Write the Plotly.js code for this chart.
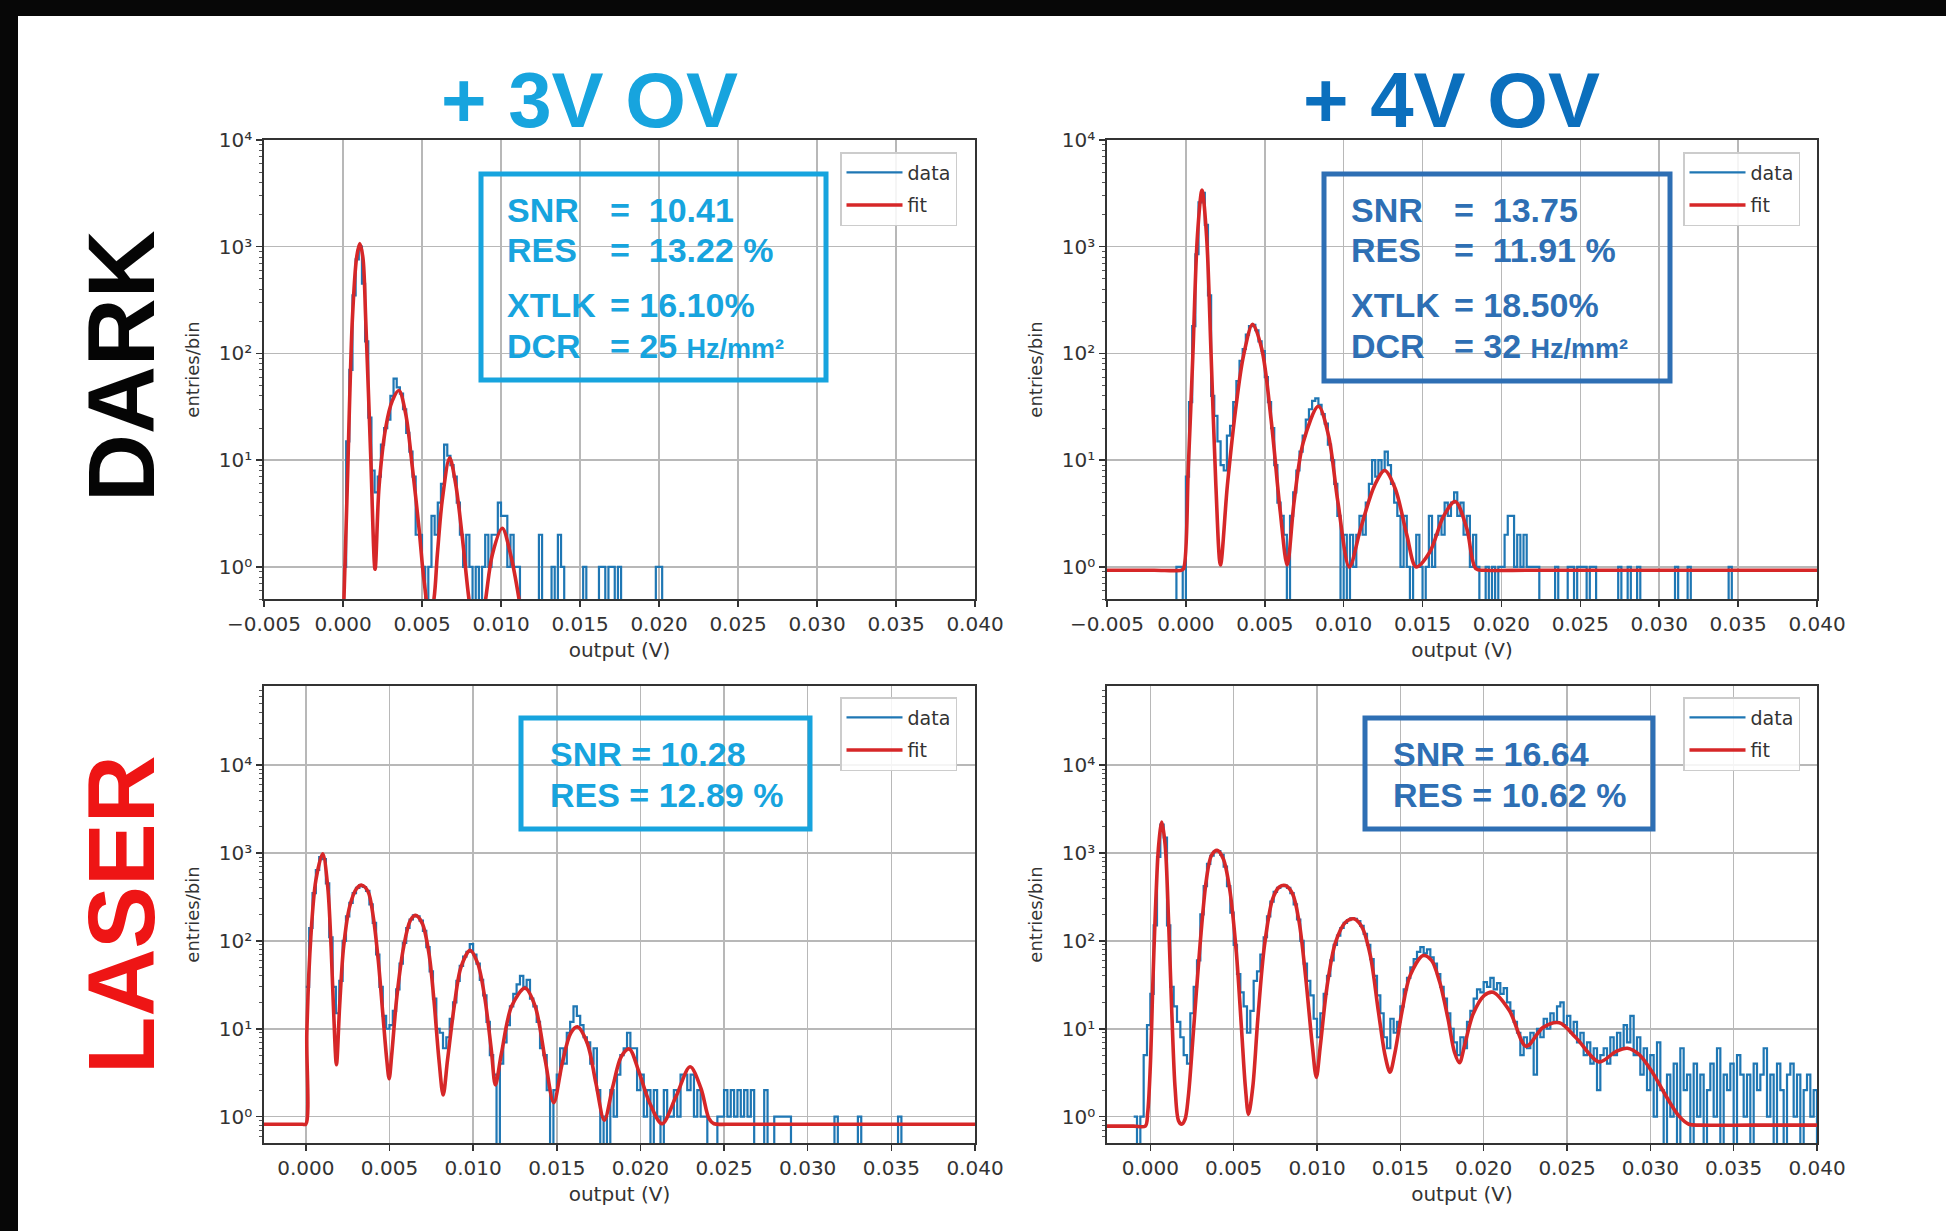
<!DOCTYPE html>
<html>
<head>
<meta charset="utf-8">
<script src="https://cdn.plot.ly/plotly-3.0.1.min.js"></script>
<style>
  html, body { margin: 0; padding: 0; background: #ffffff; }
  #chart { width: 1946px; height: 1231px; }
</style>
</head>
<body>
<div id="chart"></div>
<script>
// ---------------------------------------------------------------------------
// SiPM charge spectra: dark counts and laser pulses at +3 V and +4 V overvoltage.
// Histograms share one bin width (V); counts are entries per bin.
// ---------------------------------------------------------------------------
const binWidth = 0.0002;

// DARK, +3V OV
const dark3vStart = 0.0000;
const dark3vCounts = [
  1, 15, 70, 350, 760, 1000, 450, 130, 25, 8,
  5, 7, 14, 20, 24, 40, 58, 48, 42, 30,
  18, 12, 7, 2, 2, 1, 0, 1, 3, 2,
  4, 6, 14, 11, 9, 7, 4, 2, 1, 2,
  1, 0, 1, 0, 1, 2, 1, 2, 2, 4,
  3, 3, 1, 2, 1, 1, 0, 0, 0, 0,
  0, 0, 2, 0, 0, 0, 1, 0, 2, 1,
  0, 0, 0, 0, 0, 0, 1, 0, 0, 0,
  0, 1, 1, 0, 1, 1, 0, 1, 0, 0,
  0, 0, 0, 0, 0, 0, 0, 0, 0, 1,
  1, 0, 0
];
const dark3vFitX = [-0.0002, 0.00006, 0.00027, 0.00059, 0.00086, 0.00106, 0.00126, 0.00144, 0.00175, 0.00203,
  0.00228, 0.0027, 0.00312, 0.00354, 0.00397, 0.00439, 0.00481, 0.00513, 0.00545, 0.0057,
  0.00597, 0.00628, 0.00675, 0.00713, 0.00755, 0.00797, 0.0085, 0.00903, 0.00945, 0.01008,
  0.01061, 0.01114, 0.0118];
const dark3vFitY = [0.05, 0.5, 5.6, 204, 790, 1070, 790, 204, 11.4, 0.95,
  5.6, 20, 36, 45, 27, 8.6, 2.3, 0.74, 0.38, 0.45,
  1.3, 4.2, 10.5, 6, 1.9, 0.5, 0.15, 0.5, 1.3, 2.3,
  1.3, 0.5, 0.1];

// DARK, +4V OV
const dark4vStart = -0.0010;
const dark4vCounts = [
  0, 0, 1, 1, 0, 7, 35, 180, 850, 2600,
  3200, 1600, 350, 40, 26, 15, 9, 8, 17, 21,
  35, 55, 85, 110, 150, 180, 185, 165, 130, 105,
  60, 35, 20, 9, 4, 3, 2, 0, 3, 5,
  8, 12, 17, 24, 30, 36, 38, 33, 27, 22,
  14, 10, 6, 3, 0, 2, 0, 2, 1, 2,
  3, 2, 4, 6, 10, 7, 10, 8, 12, 9,
  6, 4, 3, 1, 3, 1, 0, 1, 2, 1,
  0, 1, 3, 1, 2, 3, 2, 4, 3, 4,
  5, 3, 4, 2, 3, 1, 2, 1, 0, 0,
  1, 0, 1, 0, 1, 1, 2, 3, 3, 1,
  2, 1, 2, 1, 1, 1, 1, 0, 0, 0,
  0, 0, 1, 0, 0, 0, 1, 1, 0, 1,
  1, 1, 0, 1, 1, 0, 0, 0, 0, 0,
  0, 0, 1, 0, 0, 1, 0, 0, 1, 0,
  0, 0, 0, 0, 0, 0, 0, 0, 0, 0,
  1, 0, 0, 0, 1, 0, 0, 0, 0, 0,
  0, 0, 0, 0, 0, 0, 0, 1, 0
];
const dark4vFitX = [-0.0050, -0.0020, -0.0003, -0.00015, 0.00015, 0.00044, 0.00073, 0.00102, 0.00131, 0.0016, 0.0019,
  0.00219, 0.00263, 0.00321, 0.00365, 0.00423, 0.00481, 0.0054, 0.00598, 0.00642, 0.00686,
  0.00744, 0.0084, 0.00904, 0.00963, 0.01036, 0.01108, 0.01196, 0.0126, 0.01327, 0.014,
  0.01459, 0.01546, 0.01634, 0.01707, 0.0178, 0.01838, 0.0190, 0.0220, 0.0400];
const dark4vFitY = [0.93, 0.93, 0.93, 0.96, 8.3, 95, 1260, 3390, 1260, 95, 5.8,
  1.04, 5.8, 35, 95, 188, 110, 24, 3.3, 1.04, 4.1,
  14.7, 32, 17, 4.1, 1.0, 2.3, 5.8, 8, 5.4, 2.0,
  1.0, 1.38, 3.0, 4.1, 2.3, 0.96, 0.93, 0.93, 0.93];

// LASER, +3V OV
const laser3vStart = 0.0000;
const laser3vCounts = [
  30, 140, 350, 640, 900, 850, 450, 110, 30, 15,
  35, 100, 190, 270, 350, 400, 430, 410, 370, 260,
  160, 70, 30, 14, 10, 11, 16, 28, 55, 95,
  140, 175, 195, 190, 170, 130, 85, 45, 22, 10,
  9, 6, 8, 13, 20, 35, 52, 66, 75, 92,
  70, 55, 36, 24, 12, 5, 3, 0, 4, 7,
  11, 18, 25, 32, 40, 30, 36, 22, 18, 12,
  6, 5, 2, 0, 2, 3, 6, 4, 9, 12,
  18, 14, 11, 8, 7, 4, 6, 2, 0, 1,
  0, 2, 1, 3, 5, 6, 9, 6, 6, 2,
  3, 1, 2, 0, 2, 1, 0, 2, 1, 1,
  2, 1, 3, 3, 2, 3, 1, 2, 1, 1,
  0, 0, 0, 1, 1, 2, 1, 2, 1, 2,
  1, 2, 1, 2, 0, 0, 0, 2, 0, 0,
  1, 1, 1, 1, 1, 0, 0, 0, 0, 0,
  0, 0, 0, 0, 0, 0, 0, 0, 1, 0,
  0, 0, 0, 0, 0, 1, 0, 0, 0, 0,
  0, 0, 0, 0, 0, 0, 0, 1, 0
];
const laser3vFitX = [-0.0025, -0.0012, -0.0002, 0.0000, 0.00006, 0.0003, 0.0006, 0.00101, 0.00131, 0.00151, 0.00165, 0.00183,
  0.00202, 0.00226, 0.00262, 0.00302, 0.00335, 0.00373, 0.00403, 0.00433, 0.0046, 0.00484,
  0.00498, 0.00514, 0.00544, 0.00585, 0.00625, 0.00657, 0.00696, 0.00736, 0.00766, 0.00796,
  0.00821, 0.00847, 0.00887, 0.00927, 0.00982, 0.01028, 0.01069, 0.01109, 0.01133, 0.01169,
  0.0123, 0.0131, 0.01371, 0.01431, 0.01482, 0.01532, 0.01583, 0.01623, 0.01683, 0.01734,
  0.01784, 0.01835, 0.01885, 0.01933, 0.01992, 0.02051, 0.02129, 0.02213, 0.02297, 0.02362,
  0.0241, 0.0244, 0.0252, 0.0300, 0.0400];
const laser3vFitY = [0.82, 0.82, 0.82, 0.82, 8.9, 111, 490, 980, 410, 86, 18, 3.9,
  18, 86, 245, 390, 430, 360, 188, 60, 15, 4.4,
  2.7, 5.2, 23, 86, 171, 195, 158, 72, 21, 4.4,
  1.76, 4.4, 18, 50, 78, 55, 23, 5.7, 2.3, 5.2,
  18, 29, 18, 4.4, 1.44, 4.0, 8.9, 10.5, 6.8, 2.4,
  0.91, 2.2, 4.8, 5.9, 3.2, 1.5, 0.83, 1.7, 3.7, 2.1,
  0.95, 0.83, 0.82, 0.82, 0.82];

// LASER, +4V OV
const laser4vStart = -0.0010;
const laser4vCounts = [
  1, 0, 1, 5, 11, 25, 150, 900, 2100, 1500,
  150, 30, 18, 12, 8, 5, 4, 15, 30, 60,
  200, 420, 750, 930, 1040, 1050, 950, 700, 420, 210,
  90, 42, 26, 18, 9, 16, 35, 45, 70, 110,
  190, 280, 360, 400, 420, 425, 400, 350, 260, 175,
  100, 55, 35, 24, 13, 8, 15, 25, 40, 60,
  90, 115, 140, 160, 172, 180, 178, 168, 148, 120,
  90, 62, 40, 24, 15, 8, 6, 13, 9, 12,
  18, 28, 38, 50, 62, 75, 85, 72, 80, 65,
  55, 42, 30, 22, 15, 10, 7, 5, 8, 6,
  12, 16, 22, 28, 26, 34, 30, 38, 28, 33,
  25, 29, 20, 16, 12, 9, 5, 8, 6, 9,
  3, 10, 8, 13, 10, 15, 12, 18, 20, 11,
  14, 9, 12, 7, 9, 5, 7, 4, 6, 2,
  5, 6, 4, 8, 5, 9, 6, 11, 7, 14,
  5, 8, 3, 6, 2, 5, 1, 7, 2, 0,
  3, 1, 4, 0, 6, 2, 3, 0, 4, 1,
  3, 0, 2, 4, 1, 6, 0, 3, 2, 4,
  0, 5, 3, 1, 3, 0, 4, 2, 3, 6,
  1, 3, 0, 4, 2, 0, 3, 4, 1, 3,
  0, 2, 3, 1, 2
];
const laser4vFitX = [-0.0026, -0.0010, -0.0003, -0.00016, 0.0000, 0.00016, 0.0003, 0.0005, 0.00069, 0.00089, 0.00109,
  0.00129, 0.00149, 0.00169, 0.00188, 0.00208, 0.00228, 0.00258, 0.00298, 0.00337, 0.00367,
  0.00401, 0.00437, 0.00476, 0.00516, 0.00546, 0.0057, 0.00589, 0.00615, 0.00645, 0.00685,
  0.00734, 0.00774, 0.0081, 0.00853, 0.00893, 0.00933, 0.00972, 0.00996, 0.0102, 0.01061,
  0.01111, 0.01171, 0.01222, 0.0127, 0.0132, 0.01369, 0.01409, 0.01438, 0.01468, 0.01508,
  0.01558, 0.01637, 0.01687, 0.01736, 0.01786, 0.01825, 0.01855, 0.01885, 0.01936, 0.02004,
  0.02056, 0.02155, 0.02255, 0.02355, 0.02454, 0.02554, 0.02693, 0.02793, 0.02863, 0.02932,
  0.03012, 0.03092, 0.03171, 0.03231, 0.0330, 0.0360, 0.0400];
const laser4vFitY = [0.78, 0.78, 0.78, 1.1, 3.8, 37, 210, 1230, 2250, 1230, 178,
  15, 2.05, 0.9, 0.82, 0.93, 1.7, 9, 89, 510, 940,
  1070, 865, 390, 74, 10.8, 2.2, 1.06, 2.2, 13, 89,
  300, 410, 426, 345, 163, 37, 6.4, 2.8, 6.4, 31,
  96, 163, 178, 143, 68, 15.4, 4.9, 3.2, 5.4, 15,
  40, 68, 60, 34, 13, 5.4, 4.1, 6.4, 14.6, 24,
  26, 16, 6.3, 10.3, 11.7, 7.9, 4.2, 5.5, 6.0, 5.1,
  3.2, 1.74, 1.02, 0.82, 0.8, 0.8, 0.8];

// Fit summaries printed in each panel
const dark3vStats = [['SNR', '=\u00a0\u00a010.41'], ['RES', '=\u00a0\u00a013.22 %'], ['XTLK', '=\u00a016.10%'], ['DCR', '=\u00a025 <span style="font-size:27px">Hz/mm²</span>']];
const dark4vStats = [['SNR', '=\u00a0\u00a013.75'], ['RES', '=\u00a0\u00a011.91 %'], ['XTLK', '=\u00a018.50%'], ['DCR', '=\u00a032 <span style="font-size:27px">Hz/mm²</span>']];
const laser3vStats = ['SNR = 10.28', 'RES = 12.89 %'];
const laser4vStats = ['SNR = 16.64', 'RES = 10.62 %'];

const columnTitles = ['+ 3V OV', '+ 4V OV'];
const rowTitles = ['DARK', 'LASER'];
const seriesNames = ['data', 'fit'];
const xAxisTitle = 'output (V)';
const yAxisTitle = 'entries/bin';
const yTickVals = [1, 10, 100, 1000, 10000];
const yTickText = ['10⁰', '10¹', '10²', '10³', '10⁴'];

// ---------------------------------------------------------------------------
const W = 1946, H = 1231;
const px = v => v / W;
const py = v => 1 - v / H;
const EMPTY_BIN = 1e-3;   // empty bins fall below the log axis
const BLUE3 = '#17a4de', BLUE4 = '#0b6fbd', BOX4 = '#2e6fb4';
const DATA_COLOR = '#1f77b4', FIT_COLOR = '#d62728';

function stepLine(start, counts) {
  const xs = [], ys = [];
  counts.forEach((c, i) => {
    xs.push(start + i * binWidth);
    ys.push(c > 0 ? c : EMPTY_BIN);
  });
  xs.push(start + counts.length * binWidth);
  ys.push(EMPTY_BIN);
  return { xs, ys };
}

const panels = [
  { start: dark3vStart, counts: dark3vCounts, fx: dark3vFitX, fy: dark3vFitY, xr: [-0.005, 0.040], yr: [-0.301, 4],
    dom: [264, 975, 140, 599] },
  { start: dark4vStart, counts: dark4vCounts, fx: dark4vFitX, fy: dark4vFitY, xr: [-0.005, 0.040], yr: [-0.301, 4],
    dom: [1107, 1817, 140, 599] },
  { start: laser3vStart, counts: laser3vCounts, fx: laser3vFitX, fy: laser3vFitY, xr: [-0.0025, 0.040], yr: [-0.3, 4.9],
    dom: [264, 975, 686, 1143] },
  { start: laser4vStart, counts: laser4vCounts, fx: laser4vFitX, fy: laser4vFitY, xr: [-0.0026, 0.040], yr: [-0.3, 4.9],
    dom: [1107, 1817, 686, 1143] }
];

const minorVals = [];
for (let e = -1; e <= 5; e++) for (let m = 2; m <= 9; m++) minorVals.push(m * Math.pow(10, e));

const tickFont = { family: 'DejaVu Sans, sans-serif', size: 20, color: '#333333' };
const traces = [];
const layout = {
  width: W, height: H,
  margin: { l: 0, r: 0, t: 0, b: 0 },
  paper_bgcolor: '#ffffff', plot_bgcolor: '#ffffff',
  font: { family: 'DejaVu Sans, sans-serif', size: 20, color: '#333333' },
  showlegend: true,
  annotations: [], shapes: []
};

panels.forEach((p, i) => {
  const n = i === 0 ? '' : String(i + 1);
  const legendId = 'legend' + n;
  const h = stepLine(p.start, p.counts);
  traces.push({
    type: 'scatter', mode: 'lines', name: seriesNames[0], x: h.xs, y: h.ys,
    xaxis: 'x' + n, yaxis: 'y' + n, legend: legendId, legendgroup: 'd' + i,
    line: { color: DATA_COLOR, width: 2.2, shape: 'hv' }, hoverinfo: 'skip'
  });
  traces.push({
    type: 'scatter', mode: 'lines', name: seriesNames[1], x: p.fx, y: p.fy,
    xaxis: 'x' + n, yaxis: 'y' + n, legend: legendId, legendgroup: 'f' + i,
    line: { color: FIT_COLOR, width: 3.6, shape: 'spline', smoothing: 0.9 }, hoverinfo: 'skip'
  });
  const [l, r, t, b] = p.dom;
  layout['xaxis' + n] = {
    domain: [px(l), px(r)], range: p.xr, anchor: 'y' + n, type: 'linear',
    tick0: 0, dtick: 0.005, tickformat: '.3f',
    showgrid: true, gridcolor: '#b8b8b8', gridwidth: 1.5, zeroline: false,
    showline: true, mirror: true, linecolor: '#333333', linewidth: 1.8,
    ticks: 'outside', ticklen: 6, tickwidth: 1.5, tickcolor: '#333333',
    tickfont: tickFont, automargin: false,
    title: { text: xAxisTitle, font: { family: 'DejaVu Sans, sans-serif', size: 20, color: '#333333' }, standoff: 8 }
  };
  layout['yaxis' + n] = {
    domain: [py(b), py(t)], range: p.yr, anchor: 'x' + n, type: 'log',
    tickmode: 'array', tickvals: yTickVals, ticktext: yTickText,
    showgrid: true, gridcolor: '#b8b8b8', gridwidth: 1.5, zeroline: false,
    showline: true, mirror: true, linecolor: '#333333', linewidth: 1.8,
    ticks: 'outside', ticklen: 6, tickwidth: 1.5, tickcolor: '#333333',
    minor: { tickmode: 'array', tickvals: minorVals, ticks: 'outside', ticklen: 3, tickwidth: 1, tickcolor: '#555555', showgrid: false },
    tickfont: tickFont, automargin: false,
    title: { text: yAxisTitle, font: { family: 'DejaVu Sans, sans-serif', size: 18, color: '#333333' }, standoff: 14 }
  };
  const lx = i % 2 === 0 ? 840 : 1683;
  const ly = i < 2 ? 152 : 697;
  layout[legendId] = {
    x: px(lx), y: py(ly), xanchor: 'left', yanchor: 'top',
    bgcolor: 'rgba(255,255,255,0.85)', bordercolor: '#cccccc', borderwidth: 1.5,
    font: { family: 'DejaVu Sans, sans-serif', size: 19, color: '#333333' },
    traceorder: 'grouped', tracegroupgap: 5, itemwidth: 56
  };
});

// Column and row headings
const boxFont = (color, size) => ({ family: 'Liberation Sans, Arial, sans-serif', size: size, color: color, weight: 700 });
function note(text, x, y, font, extra) {
  layout.annotations.push(Object.assign({
    text: text, xref: 'paper', yref: 'paper', x: px(x), y: py(y),
    xanchor: 'center', yanchor: 'middle', showarrow: false, font: font
  }, extra || {}));
}
note(columnTitles[0], 589, 100, boxFont(BLUE3, 78));
note(columnTitles[1], 1451, 100, boxFont(BLUE4, 78));
note(rowTitles[0], 121, 366, boxFont('#050505', 94), { textangle: -90 });
note(rowTitles[1], 121, 915, boxFont('#ee1515', 94), { textangle: -90 });

// Fit-summary boxes
function frame(x0, y0, x1, y1, color) {
  layout.shapes.push({ type: 'rect', xref: 'paper', yref: 'paper', x0: px(x0), x1: px(x1), y0: py(y1), y1: py(y0),
    line: { color: color, width: 5 }, fillcolor: 'rgba(255,255,255,0)' });
}
const statRows = [210, 250, 305, 346];
frame(481, 174, 826, 380, BLUE3);
dark3vStats.forEach((s, k) => {
  note(s[0], 505, statRows[k], boxFont(BLUE3, 34), { xanchor: 'left' });
  note(s[1], 608, statRows[k], boxFont(BLUE3, 34), { xanchor: 'left' });
});
frame(1324, 174, 1670, 381, BOX4);
dark4vStats.forEach((s, k) => {
  note(s[0], 1349, statRows[k], boxFont(BOX4, 34), { xanchor: 'left' });
  note(s[1], 1452, statRows[k], boxFont(BOX4, 34), { xanchor: 'left' });
});
frame(521, 718, 810, 829, BLUE3);
laser3vStats.forEach((s, k) => note(s, 548, [754, 795][k], boxFont(BLUE3, 34), { xanchor: 'left' }));
frame(1365, 718, 1653, 829, BOX4);
laser4vStats.forEach((s, k) => note(s, 1391, [754, 795][k], boxFont(BOX4, 34), { xanchor: 'left' }));

// Dark slide border along the top and left edges
layout.shapes.push({ type: 'rect', xref: 'paper', yref: 'paper', x0: 0, x1: 1, y0: py(16), y1: 1, fillcolor: '#070707', line: { width: 0 } });
layout.shapes.push({ type: 'rect', xref: 'paper', yref: 'paper', x0: 0, x1: px(18), y0: 0, y1: 1, fillcolor: '#070707', line: { width: 0 } });

Plotly.newPlot('chart', traces, layout, { displayModeBar: false, staticPlot: true });
</script>
</body>
</html>
